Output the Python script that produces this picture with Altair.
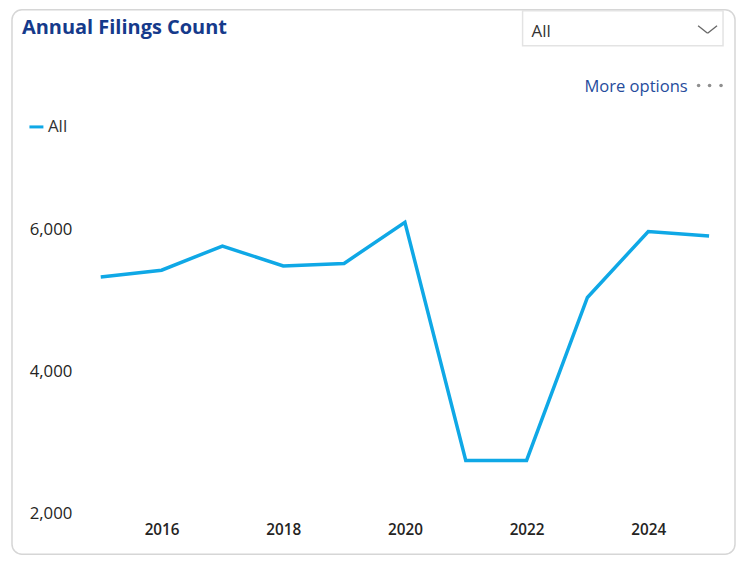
import altair as alt
import pandas as pd

# ---- data ----
years = [2015, 2016, 2017, 2018, 2019, 2020, 2021, 2022, 2023, 2024, 2025]
counts = [5330, 5425, 5765, 5485, 5520, 6100, 2745, 2745, 5040, 5970, 5905]
series = ["All"] * len(years)
x_ticks = [2016, 2018, 2020, 2022, 2024]
y_ticks = [2000, 4000, 6000]

title_text = "Annual Filings Count"
dropdown_text = "All"
more_text = "More options"

FONT = "Open Sans"
LINE_COLOR = "#0FA8E6"
W, H = 610, 356
PAD = {"left": 93, "top": 150, "right": 27, "bottom": 42}

df = pd.DataFrame({"Year": years, "Count": counts, "Series": series})
one = pd.DataFrame({"k": [0]})

line = alt.Chart(df).mark_line(strokeWidth=3.5).encode(
    x=alt.X("Year:Q",
            scale=alt.Scale(domain=[2015, 2025], nice=False, zero=False),
            axis=alt.Axis(values=x_ticks, format="d", title=None, grid=False,
                          domain=False, ticks=False, labelPadding=9,
                          labelFont=FONT, labelFontSize=15.3, labelFontWeight=600,
                          labelColor="#252423")),
    y=alt.Y("Count:Q",
            scale=alt.Scale(domain=[2000, 7000], nice=False, zero=False),
            axis=alt.Axis(values=y_ticks, format=",d", title=None, grid=False,
                          domain=False, ticks=False, labelPadding=29,
                          labelFont=FONT, labelFontSize=16.8, labelFontWeight=500,
                          labelColor="#252423")),
    color=alt.Color("Series:N",
                    scale=alt.Scale(range=[LINE_COLOR]),
                    legend=alt.Legend(orient="none", legendX=-73, legendY=-40,
                                      title=None, symbolType="stroke",
                                      symbolSize=196, symbolStrokeWidth=3,
                                      labelFont=FONT, labelFontSize=17,
                                      labelColor="#333333", padding=0,
                                      labelOffset=3)),
)

card = alt.Chart(one).mark_rect(fill=None, stroke="#d6d6d6", strokeWidth=1.5,
                                cornerRadius=10).encode(
    x=alt.value(-89), x2=alt.value(636), y=alt.value(-149), y2=alt.value(397))

title = alt.Chart(one).mark_text(align="left", baseline="alphabetic", font=FONT,
                                 fontSize=20, fontWeight="bold",
                                 color="#153A8B").encode(
    x=alt.value(-79), y=alt.value(-125), text=alt.value(title_text))

dropbox = alt.Chart(one).mark_rect(fill="white", stroke="#e3e3e3",
                                   strokeWidth=1.5).encode(
    x=alt.value(423), x2=alt.value(624), y=alt.value(-148), y2=alt.value(-113))

droptext = alt.Chart(one).mark_text(align="left", baseline="alphabetic", font=FONT,
                                    fontSize=17, color="#333333").encode(
    x=alt.value(432), y=alt.value(-122), text=alt.value(dropdown_text))

chev1 = alt.Chart(one).mark_rule(stroke="#666666", strokeWidth=1.3).encode(
    x=alt.value(599), y=alt.value(-133), x2=alt.value(608.5), y2=alt.value(-125.5))
chev2 = alt.Chart(one).mark_rule(stroke="#666666", strokeWidth=1.3).encode(
    x=alt.value(608.5), y=alt.value(-125.5), x2=alt.value(618), y2=alt.value(-133))

more = alt.Chart(one).mark_text(align="left", baseline="alphabetic", font=FONT,
                                fontSize=16.6, color="#264C9C").encode(
    x=alt.value(485), y=alt.value(-67), text=alt.value(more_text))

dots = [
    alt.Chart(one).mark_point(filled=True, shape="circle", size=13,
                              color="#8f8f8f", opacity=1).encode(
        x=alt.value(dx), y=alt.value(-73))
    for dx in (599.5, 610.5, 622)
]

chart = alt.layer(card, title, dropbox, droptext, chev1, chev2, more, *dots, line).properties(
    width=W, height=H,
    autosize=alt.AutoSizeParams(type="none"),
    padding=PAD,
    background="white",
).configure_view(stroke=None)

chart.save("out.html", embed_options={"renderer": "svg", "actions": False})
